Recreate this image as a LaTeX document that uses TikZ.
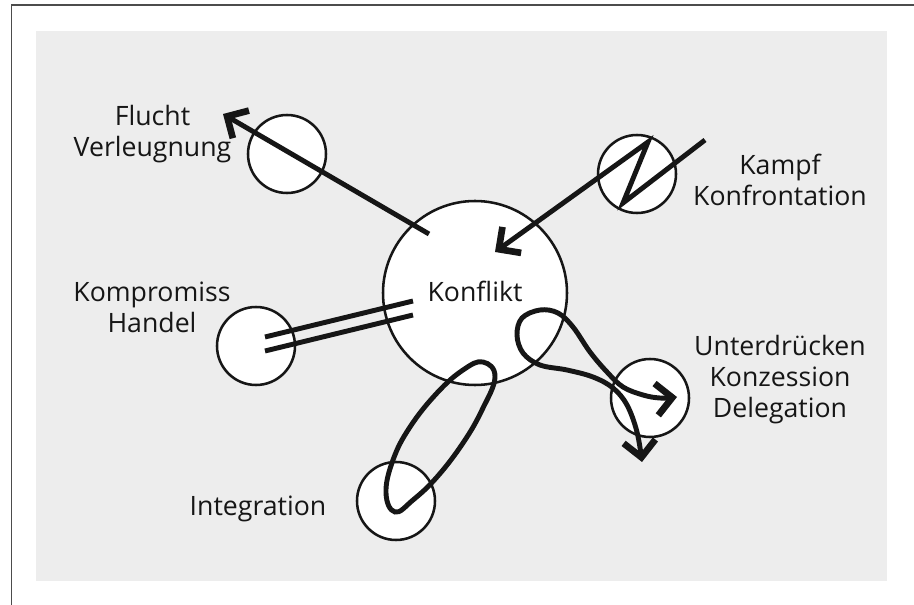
\documentclass[tikz,border=0pt]{standalone}
\usepackage{fontspec}
\setmainfont{Open Sans}
\usepackage{xcolor}
\usetikzlibrary{arrows.meta}

\definecolor{panel}{HTML}{EDEDED}
\definecolor{ink}{HTML}{161616}

\tikzset{
  ring/.style={circle,draw=ink,line width=1.9pt,fill=white,inner sep=0pt,minimum size=58.5pt},
  strong/.style={draw=ink,line width=3.7pt},
  word/.style={text=ink,align=center,anchor=base},
  >={Straight Barb[length=12pt,width=24pt,line width=5pt 0,sharp]}
}

\begin{document}
\begin{tikzpicture}[x=0.75pt,y=-0.75pt,font=\fontsize{20}{23.25}\selectfont]
			\useasboundingbox (0,0) rectangle (914,605);
			\fill[panel] (36,31) rectangle (887,581);
			\draw[gray!60!black,line width=1.4pt] (11.5,605) -- (11.5,5) -- (914,5);

			\node[ring,minimum size=138pt,text depth=3pt,text=ink] (konflikt) at (475,293) {Konflikt};
			\node[ring] (flucht) at (287,154) {};
			\node[ring] (kampf) at (637,174) {};
			\node[ring] (kompromiss) at (256,346) {};
			\node[ring] (integration) at (396,501) {};
			\node[ring] (unterdruecken) at (650,398) {};

			\node[word] (fluchtText) at (152.5,157) {Flucht\\Verleugnung};
			\node[word] (kampfText) at (780,206) {Kampf\\Konfrontation};
			\node[word] (kompromissText) at (152,333) {Kompromiss\\Handel};
			\node[word] (unterdrueckenText) at (780,418) {Unterdrücken\\Konzession\\Delegation};
			\node[word] (integrationText) at (258,516) {Integration};

			\coordinate (fluchtFoot) at (429,234);
			\coordinate (fluchtTip) at (223,114);
			\draw[strong,->] (fluchtFoot) -- (fluchtTip);

			\coordinate (kampfTail) at (705,140);
			\coordinate (zigLow) at (623,203);
			\coordinate (zigHigh) at (648,142);
			\coordinate (kampfTip) at (495,252);
			\draw[strong,->] (kampfTail) -- (zigLow) -- (zigHigh) -- (kampfTip);

			\coordinate (handelA) at (265,337);
			\coordinate (handelB) at (265,351);
			\coordinate (konfliktA) at (413,301);
			\coordinate (konfliktB) at (413,315);
			\draw[strong] (handelA) -- (konfliktA);
			\draw[strong] (handelB) -- (konfliktB);

			\draw[strong] plot[smooth cycle,tension=0.7] coordinates {(395,512) (386,493) (393,460) (410,427) (437,393) (463,370) (483,362) (495,377) (482,410) (463,443) (437,477) (413,500)};

			\draw[strong,<->] plot[smooth,tension=0.6] coordinates {(677,397) (660,398) (643,395) (623,387) (607,372) (590,352) (573,327) (558,313) (540,310) (522,318) (517,335) (523,353) (540,365) (567,370) (593,377) (613,388) (627,405) (637,432) (642,462)};
		\end{tikzpicture}
\end{document}
